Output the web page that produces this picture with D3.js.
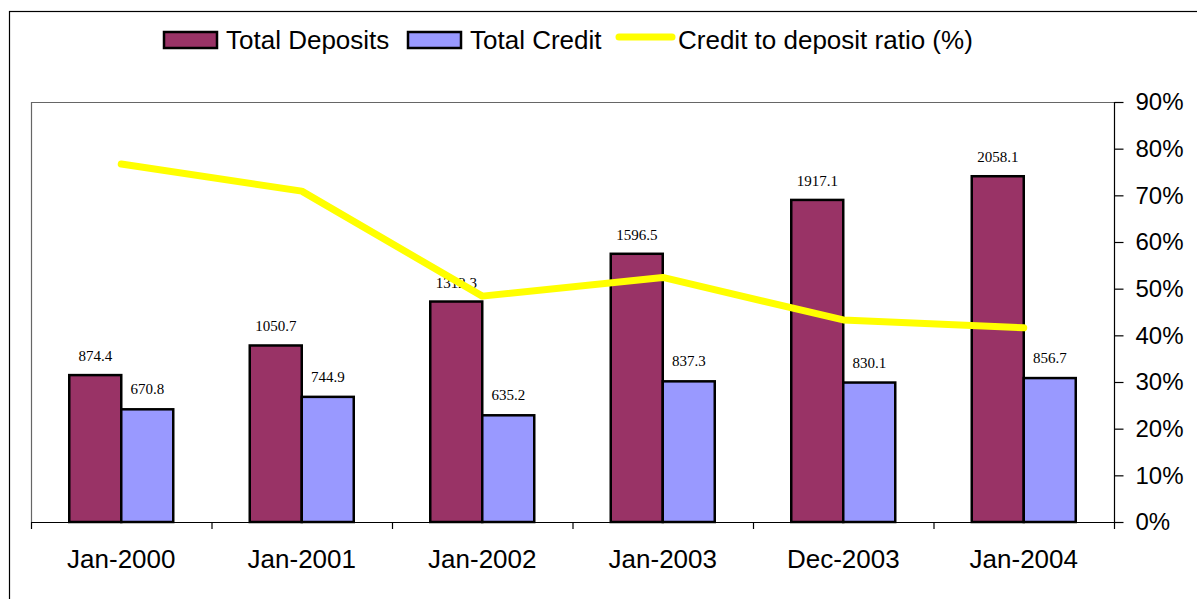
<!DOCTYPE html>
<html>
<head>
<meta charset="utf-8">
<script src="https://cdn.jsdelivr.net/npm/d3@7"></script>
<style>
  html, body { margin: 0; padding: 0; background: #fff; }
  svg { display: block; }
</style>
</head>
<body>
<svg id="chart" width="1197" height="599"></svg>
<script>
// Banking aggregates and credit-to-deposit ratio
const categories = ["Jan-2000", "Jan-2001", "Jan-2002", "Jan-2003", "Dec-2003", "Jan-2004"];
const totalDeposits = [874.4, 1050.7, 1312.3, 1596.5, 1917.1, 2058.1];
const totalCredit = [670.8, 744.9, 635.2, 837.3, 830.1, 856.7];
const cdRatio = [76.7, 70.9, 48.4, 52.4, 43.3, 41.6];
const ratioTicks = [0, 10, 20, 30, 40, 50, 60, 70, 80, 90];

const svg = d3.select("#chart");
const plot = { left: 31, right: 1114, top: 102, bottom: 522 };
const sans = "'Liberation Sans', Arial, sans-serif";
const serif = "'Liberation Serif', 'Times New Roman', serif";

// Outer chart frame
svg.append("rect")
  .attr("x", 9.5).attr("y", 11.5)
  .attr("width", 1300).attr("height", 700)
  .attr("fill", "none").attr("stroke", "#000").attr("stroke-width", 1.2);

const x = d3.scaleBand().domain(categories).range([plot.left, plot.right]).padding(0);
const yAmt = d3.scaleLinear().domain([0, 2500]).range([plot.bottom, plot.top]);
const yPct = d3.scaleLinear().domain([0, 90]).range([plot.bottom, plot.top]);

// Plot area frame (top and left edges)
svg.append("path")
  .attr("d", `M${plot.left + 0.5},${plot.bottom} V${plot.top + 0.5} H${plot.right}`)
  .attr("fill", "none").attr("stroke", "#666").attr("stroke-width", 1.2);

const barW = 52;
const groups = svg.append("g").selectAll("g")
  .data(categories)
  .join("g")
  .attr("transform", d => `translate(${x(d) + x.bandwidth() / 2},0)`);

groups.append("rect")
  .attr("x", -barW)
  .attr("y", (d, i) => yAmt(totalDeposits[i]))
  .attr("width", barW)
  .attr("height", (d, i) => plot.bottom - yAmt(totalDeposits[i]))
  .attr("fill", "#993366").attr("stroke", "#000").attr("stroke-width", 2.5);

groups.append("rect")
  .attr("x", 0)
  .attr("y", (d, i) => yAmt(totalCredit[i]))
  .attr("width", barW)
  .attr("height", (d, i) => plot.bottom - yAmt(totalCredit[i]))
  .attr("fill", "#9999FF").attr("stroke", "#000").attr("stroke-width", 2.5);

// Value labels above each bar
groups.append("text")
  .attr("x", -barW / 2)
  .attr("y", (d, i) => yAmt(totalDeposits[i]) - 14)
  .attr("text-anchor", "middle")
  .attr("font-family", serif).attr("font-size", 15)
  .text((d, i) => totalDeposits[i].toFixed(1));

groups.append("text")
  .attr("x", barW / 2)
  .attr("y", (d, i) => yAmt(totalCredit[i]) - 15)
  .attr("text-anchor", "middle")
  .attr("font-family", serif).attr("font-size", 15)
  .text((d, i) => totalCredit[i].toFixed(1));

// Credit-to-deposit ratio line
const line = d3.line()
  .x((d, i) => x(categories[i]) + x.bandwidth() / 2)
  .y(d => yPct(d));
svg.append("path")
  .datum(cdRatio)
  .attr("d", line)
  .attr("fill", "none").attr("stroke", "#FFFF00")
  .attr("stroke-width", 7).attr("stroke-linecap", "round").attr("stroke-linejoin", "round");

// Category axis
const xAxis = svg.append("g")
  .attr("transform", `translate(0,${plot.bottom})`)
  .call(d3.axisBottom(x).tickSize(0).tickPadding(28));
xAxis.select(".domain").attr("d", `M${plot.left},0.5H${plot.right + 9}`).attr("stroke", "#000").attr("stroke-width", 1.2);
xAxis.selectAll("text")
  .attr("font-family", sans)
  .attr("font-size", 26).attr("fill", "#000");
xAxis.selectAll(".divider")
  .data(d3.range(categories.length + 1))
  .join("line")
  .attr("class", "divider")
  .attr("x1", i => plot.left + i * x.bandwidth() + 0.5)
  .attr("x2", i => plot.left + i * x.bandwidth() + 0.5)
  .attr("y1", 0).attr("y2", 7)
  .attr("stroke", "#000").attr("stroke-width", 1.2);

// Percentage axis on the right
const yAxis = svg.append("g")
  .attr("transform", `translate(${plot.right + 0.5},0)`)
  .call(d3.axisRight(yPct).tickValues(ratioTicks).tickFormat(d => d + "%").tickSize(9).tickPadding(12));
yAxis.select(".domain").attr("d", `M0,${plot.top}V${plot.bottom}`).attr("stroke", "#000").attr("stroke-width", 1.2);
yAxis.selectAll(".tick line").attr("stroke", "#000").attr("stroke-width", 1.2);
yAxis.selectAll("text")
  .attr("font-family", sans)
  .attr("font-size", 24).attr("fill", "#000");

// Legend
const legend = svg.append("g");
const swatches = [
  { label: "Total Deposits", color: "#993366", x: 164 },
  { label: "Total Credit", color: "#9999FF", x: 408 }
];
swatches.forEach(s => {
  legend.append("rect")
    .attr("x", s.x).attr("y", 32).attr("width", 53).attr("height", 16)
    .attr("fill", s.color).attr("stroke", "#000").attr("stroke-width", 2.5);
  legend.append("text")
    .attr("x", s.x + 62).attr("y", 49)
    .attr("font-family", sans).attr("font-size", 26)
    .text(s.label);
});
legend.append("line")
  .attr("x1", 619).attr("x2", 672).attr("y1", 37).attr("y2", 37)
  .attr("stroke", "#FFFF00").attr("stroke-width", 7).attr("stroke-linecap", "round");
legend.append("text")
  .attr("x", 678).attr("y", 49)
  .attr("font-family", sans).attr("font-size", 26)
  .text("Credit to deposit ratio (%)");
</script>
</body>
</html>
